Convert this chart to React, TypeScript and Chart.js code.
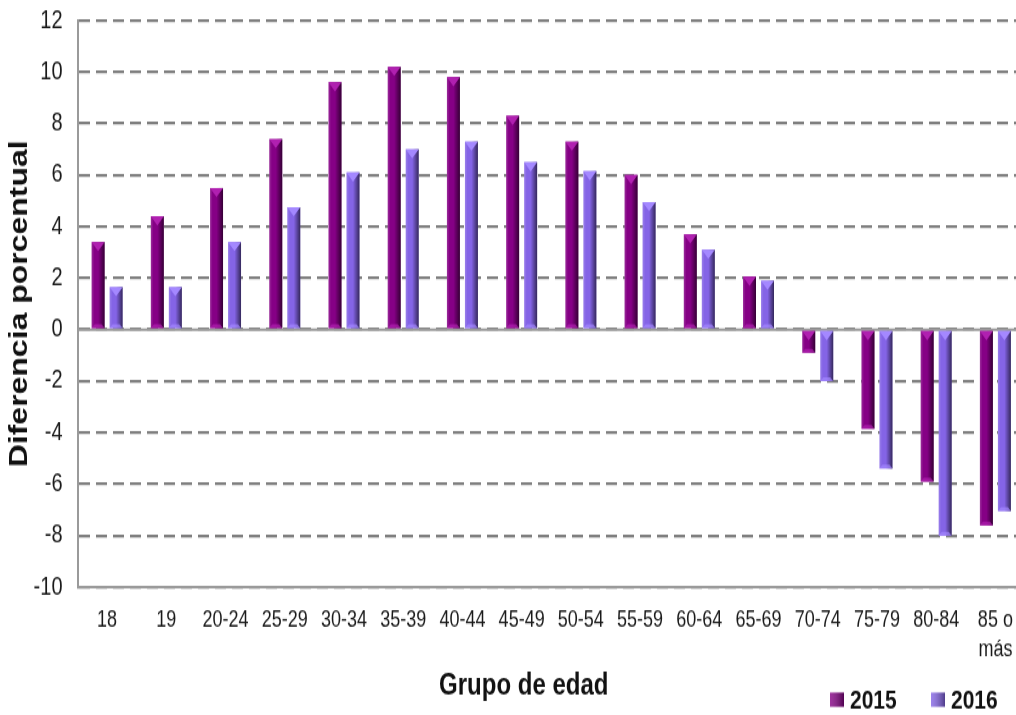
import React, { useEffect, useRef } from "react";
import { Chart, registerables } from "chart.js";

Chart.register(...registerables);

const categories: (string | string[])[] = [
  "18", "19", "20-24", "25-29", "30-34", "35-39", "40-44", "45-49",
  "50-54", "55-59", "60-64", "65-69", "70-74", "75-79", "80-84", ["85 o", "más"],
];
const values2015 = [3.4, 4.4, 5.5, 7.4, 9.6, 10.2, 9.8, 8.3, 7.3, 6.0, 3.7, 2.05, -0.9, -3.85, -5.9, -7.6];
const values2016 = [1.65, 1.65, 3.4, 4.75, 6.1, 7.0, 7.3, 6.5, 6.15, 4.95, 3.1, 1.9, -2.0, -5.4, -8.0, -7.05];
const seriesLabels = ["2015", "2016"];
const seriesColors = ["#850085", "#8464e6"];
const seriesTopColors = ["#b020b0", "#a488ff"];
const yMin = -10;
const yMax = 12;
const yStep = 2;
const yTitle = "Diferencia porcentual";
const xTitle = "Grupo de edad";

const FONT = "'Liberation Sans', Arial, sans-serif";
const CW = 1030;
const CH = 559;
const STRETCH = 715 / CH;

const bevelPlugin = {
  id: "bevel",
  beforeDatasetsDraw(chart: any) {
    const { ctx, chartArea, scales } = chart;
    const y0 = scales.y.getPixelForValue(0);
    ctx.save();
    ctx.strokeStyle = "#9a9a9a";
    ctx.lineWidth = 2;
    ctx.beginPath();
    ctx.moveTo(chartArea.left, y0);
    ctx.lineTo(chartArea.right, y0);
    ctx.stroke();
    ctx.restore();
  },
  afterDatasetsDraw(chart: any) {
    const { ctx } = chart;
    chart.data.datasets.forEach((ds: any, di: number) => {
      const meta = chart.getDatasetMeta(di);
      meta.data.forEach((el: any) => {
        const p = el.getProps(["x", "y", "base", "width"], true);
        const l = p.x - p.width / 2;
        const r = p.x + p.width / 2;
        const top = Math.min(p.y, p.base);
        const bot = Math.max(p.y, p.base);
        const h = bot - top;
        if (h < 1) return;
        ctx.save();
        const g = ctx.createLinearGradient(l, 0, r, 0);
        g.addColorStop(0, "rgba(255,255,255,0.18)");
        g.addColorStop(0.2, "rgba(255,255,255,0.0)");
        g.addColorStop(0.5, "rgba(0,0,0,0.0)");
        g.addColorStop(1, "rgba(0,0,0,0.6)");
        ctx.fillStyle = g;
        ctx.fillRect(l, top, p.width, h);
        const th = Math.min(p.width * 0.55, h);
        ctx.fillStyle = seriesTopColors[di];
        ctx.beginPath();
        ctx.moveTo(l, top);
        ctx.lineTo(r, top);
        ctx.lineTo(p.x, top + th);
        ctx.closePath();
        ctx.fill();
        const bh = Math.min(3, h / 3);
        ctx.globalAlpha = 0.7;
        ctx.beginPath();
        ctx.moveTo(l, bot);
        ctx.lineTo(r, bot);
        ctx.lineTo(r - 3, bot - bh);
        ctx.lineTo(l + 3, bot - bh);
        ctx.closePath();
        ctx.fill();
        ctx.restore();
      });
    });
  },
  afterDraw(chart: any) {
    const { ctx, chartArea } = chart;
    ctx.save();
    ctx.fillStyle = "#111";
    ctx.font = `bold 24px ${FONT}`;
    ctx.textAlign = "center";
    ctx.textBaseline = "middle";
    const tx = chartArea.left + (chartArea.right - chartArea.left) * 0.471;
    ctx.fillText(xTitle, tx, chartArea.bottom + 77);
    ctx.font = `bold 21px ${FONT}`;
    ctx.textAlign = "left";
    const ly = chartArea.bottom + 88;
    let lx = 830;
    chart.data.datasets.forEach((ds: any) => {
      ctx.fillStyle = ds.backgroundColor;
      ctx.fillRect(lx, ly - 5.5, 14, 11);
      const g = ctx.createLinearGradient(lx, 0, lx + 14, 0);
      g.addColorStop(0, "rgba(255,255,255,0.2)");
      g.addColorStop(1, "rgba(0,0,0,0.4)");
      ctx.fillStyle = g;
      ctx.fillRect(lx, ly - 5.5, 14, 11);
      ctx.fillStyle = "#111";
      ctx.fillText(ds.label, lx + 20, ly + 1);
      lx += 101;
    });
    ctx.restore();
  },
};

export default function App() {
  const ref = useRef<HTMLCanvasElement | null>(null);
  useEffect(() => {
    if (!ref.current) return;
    const chart = new Chart(ref.current, {
      type: "bar",
      data: {
        labels: categories as any,
        datasets: [
          { label: seriesLabels[0], data: values2015, backgroundColor: seriesColors[0], borderWidth: 0 },
          { label: seriesLabels[1], data: values2016, backgroundColor: seriesColors[1], borderWidth: 0 },
        ],
      },
      options: {
        responsive: false,
        animation: false,
        events: [],
        layout: { padding: { top: 16, right: 5, bottom: 0, left: 0 } },
        datasets: { bar: { categoryPercentage: 0.608, barPercentage: 0.72 } } as any,
        plugins: {
          legend: { display: false },
          tooltip: { enabled: false },
          title: { display: false },
        },
        scales: {
          x: {
            grid: { display: false, drawTicks: false },
            border: { display: true, color: "#9a9a9a", width: 2 },
            ticks: {
              color: "#1a1a1a",
              font: { family: FONT, size: 18, lineHeight: 1.3 },
              padding: 14,
              maxRotation: 0,
              autoSkip: false,
            },
            afterFit: (s: any) => {
              s.height = 100;
              s.paddingLeft = 0;
              s.paddingRight = 0;
            },
          },
          y: {
            min: yMin,
            max: yMax,
            grid: { color: "#7f7f7f", lineWidth: 2.3, drawTicks: false },
            border: { display: true, color: "#9a9a9a", width: 2, dash: [11, 6] },
            ticks: {
              stepSize: yStep,
              color: "#1a1a1a",
              font: { family: FONT, size: 20 },
              padding: 15,
            },
            title: {
              display: true,
              text: yTitle,
              color: "#111",
              font: { family: FONT, size: 25, weight: "bold" },
              padding: { top: 5, bottom: 0 },
            },
            afterFit: (s: any) => {
              s.width = 77.5;
              s.paddingTop = 0;
              s.paddingBottom = 0;
            },
          },
        },
      },
      plugins: [bevelPlugin],
    });
    return () => chart.destroy();
  }, []);

  return (
    <div style={{ position: "absolute", left: 0, top: 0, width: 1016, height: 715, overflow: "hidden", background: "#fff" }}>
      <div style={{ transform: `scaleY(${STRETCH})`, transformOrigin: "0 0", width: CW, height: CH }}>
        <canvas ref={ref} width={CW} height={CH} style={{ width: CW, height: CH, display: "block" }} />
      </div>
    </div>
  );
}
